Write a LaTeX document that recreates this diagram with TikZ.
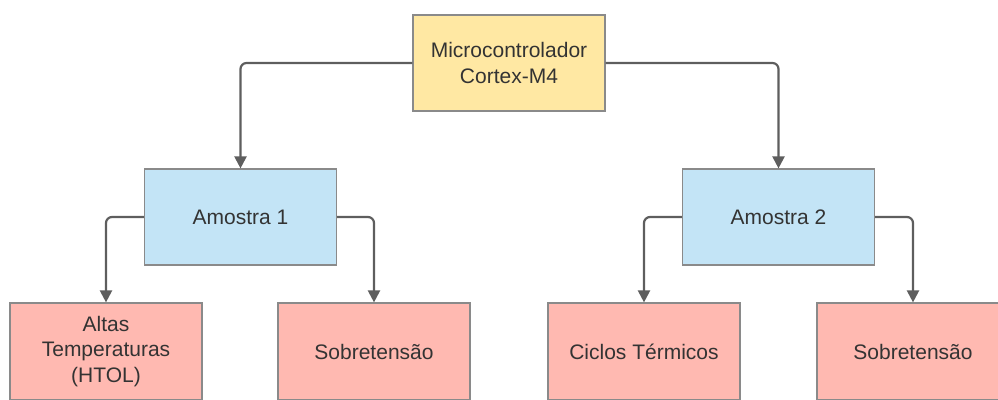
\documentclass[tikz,border=0pt]{standalone}
\usepackage{fontspec}
\setmainfont{Liberation Sans}
\usetikzlibrary{arrows.meta}
\definecolor{yel}{HTML}{FFE8A3}
\definecolor{blu}{HTML}{C3E4F6}
\definecolor{pnk}{HTML}{FFB9B1}
\definecolor{bord}{HTML}{8A8A8A}
\definecolor{conncol}{HTML}{5E5E5E}
\definecolor{txt}{HTML}{333333}
\tikzset{
  box/.style={draw=bord, line width=1.2pt, minimum width=192pt, minimum height=96pt,
    align=center, text=txt, font=\fontsize{21}{25.5}\selectfont, inner sep=0pt},
  topbox/.style={box, fill=yel},
  midbox/.style={box, fill=blu},
  botbox/.style={box, fill=pnk, minimum height=97pt},
  conn/.style={draw=conncol, line width=2.2pt, rounded corners=6pt,
    -{Triangle[length=12pt,width=12pt]}}
}
\begin{document}
\begin{tikzpicture}[x=1pt,y=-1pt]
\useasboundingbox (0,0) rectangle (998,399);
\clip (0,0) rectangle (998,399);
\node[topbox] (top) at (509,63) {Microcontrolador\\Cortex-M4};
\node[midbox] (a1) at (240.5,217) {Amostra 1};
\node[midbox] (a2) at (778.5,217) {Amostra 2};
\node[botbox] (b1) at (106,351.5) {Altas\\Temperaturas\\(HTOL)};
\node[botbox] (b2) at (374,351.5) {Sobretensão};
\node[botbox] (b3) at (644,351.5) {Ciclos Térmicos};
\node[botbox] (b4) at (913,351.5) {Sobretensão};
\draw[conn] (top.west) -| (a1.north);
\draw[conn] (top.east) -| (a2.north);
\draw[conn] (a1.west) -| (b1.north);
\draw[conn] (a1.east) -| (b2.north);
\draw[conn] (a2.west) -| (b3.north);
\draw[conn] (a2.east) -| (b4.north);
\end{tikzpicture}
\end{document}
